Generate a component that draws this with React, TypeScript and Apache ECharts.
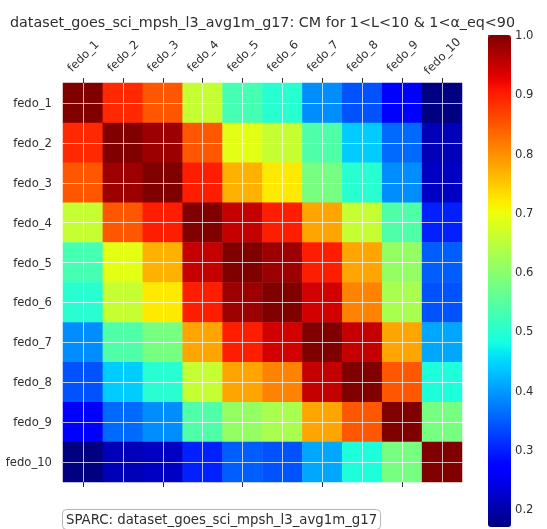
import React, { useEffect, useRef } from "react";
import * as echarts from "echarts";

const FONT = "DejaVu Sans";
const INK = "#2e2e2e";

// Channel names along both axes
const channels = [
  "fedo_1", "fedo_2", "fedo_3", "fedo_4", "fedo_5",
  "fedo_6", "fedo_7", "fedo_8", "fedo_9", "fedo_10",
];

// Correlation matrix, one row per channel
const correlation = [
  [1.0, 0.89, 0.85, 0.66, 0.53, 0.5, 0.39, 0.34, 0.26, 0.17],
  [0.89, 1.0, 0.98, 0.85, 0.69, 0.66, 0.54, 0.44, 0.36, 0.21],
  [0.85, 0.98, 1.0, 0.9, 0.77, 0.72, 0.58, 0.5, 0.39, 0.22],
  [0.66, 0.85, 0.9, 1.0, 0.95, 0.9, 0.78, 0.66, 0.54, 0.3],
  [0.53, 0.69, 0.77, 0.95, 1.0, 0.98, 0.9, 0.78, 0.61, 0.35],
  [0.5, 0.66, 0.72, 0.9, 0.98, 1.0, 0.94, 0.81, 0.63, 0.34],
  [0.39, 0.54, 0.58, 0.78, 0.9, 0.94, 1.0, 0.95, 0.78, 0.41],
  [0.34, 0.44, 0.5, 0.66, 0.78, 0.81, 0.95, 1.0, 0.85, 0.49],
  [0.26, 0.36, 0.39, 0.54, 0.61, 0.63, 0.78, 0.85, 1.0, 0.58],
  [0.17, 0.21, 0.22, 0.3, 0.35, 0.34, 0.41, 0.49, 0.58, 1.0],
];

const colorbarTicks = [0.2, 0.3, 0.4, 0.5, 0.6, 0.7, 0.8, 0.9, 1.0];
const V_MIN = 0.17;
const V_MAX = 1.0;

const titleText = "dataset_goes_sci_mpsh_l3_avg1m_g17: CM for 1<L<10 & 1<α_eq<90";
const sourceText = "SPARC: dataset_goes_sci_mpsh_l3_avg1m_g17";

// Piecewise-linear "jet" colormap
type Seg = [number, number][];
const JET_R: Seg = [[0, 0], [0.35, 0], [0.66, 1], [0.89, 1], [1, 0.5]];
const JET_G: Seg = [[0, 0], [0.125, 0], [0.375, 1], [0.64, 1], [0.91, 0], [1, 0]];
const JET_B: Seg = [[0, 0.5], [0.11, 1], [0.34, 1], [0.65, 0], [1, 0]];

function segValue(seg: Seg, t: number): number {
  for (let i = 1; i < seg.length; i++) {
    const [x0, y0] = seg[i - 1];
    const [x1, y1] = seg[i];
    if (t <= x1) {
      const f = x1 === x0 ? 0 : (t - x0) / (x1 - x0);
      return y0 + f * (y1 - y0);
    }
  }
  return seg[seg.length - 1][1];
}

function jetColors(n: number): string[] {
  const out: string[] = [];
  for (let i = 0; i < n; i++) {
    const t = i / (n - 1);
    const r = Math.round(segValue(JET_R, t) * 255);
    const g = Math.round(segValue(JET_G, t) * 255);
    const b = Math.round(segValue(JET_B, t) * 255);
    out.push(`rgb(${r},${g},${b})`);
  }
  return out;
}

export default function App() {
  const ref = useRef<HTMLDivElement>(null);

  useEffect(() => {
    if (!ref.current) return;
    const chart = echarts.init(ref.current, undefined, { renderer: "svg" });

    const cells: [number, number, number][] = [];
    correlation.forEach((row, yi) => {
      row.forEach((v, xi) => cells.push([xi, yi, v]));
    });

    const tickStyle = { color: INK, width: 1 };

    chart.setOption({
      animation: false,
      textStyle: { fontFamily: FONT },
      title: [
        {
          text: sourceText,
          left: 62,
          top: 509,
          padding: [4, 4, 4, 4],
          borderColor: "#b5b5b5",
          borderWidth: 1,
          borderRadius: 4,
          textStyle: {
            fontFamily: FONT,
            fontSize: 13.3,
            fontWeight: "normal",
            color: INK,
          },
        },
      ],
      graphic: [
        {
          type: "text",
          x: 262.5,
          y: 21.5,
          style: {
            text: titleText,
            align: "center",
            verticalAlign: "middle",
            fontFamily: FONT,
            fontSize: 14.3,
            fill: INK,
          },
        },
      ],
      grid: [
        { left: 63, top: 83, width: 399, height: 399 },
        { left: 488, top: 35, width: 23, height: 492 },
      ],
      xAxis: [
        {
          type: "category",
          gridIndex: 0,
          data: channels,
          position: "top",
          axisLine: { show: false },
          axisTick: { show: true, alignWithLabel: true, length: 5, lineStyle: tickStyle },
          axisLabel: {
            interval: 0,
            rotate: -45,
            align: "center",
            verticalAlign: "middle",
            margin: 27,
            fontSize: 11.6,
            color: INK,
            fontFamily: FONT,
          },
          splitLine: { show: false },
        },
        {
          type: "category",
          gridIndex: 0,
          data: channels,
          position: "bottom",
          axisLine: { show: false },
          axisTick: { show: true, alignWithLabel: true, length: 5, lineStyle: tickStyle },
          axisLabel: { show: false },
          splitLine: { show: false },
        },
        { type: "value", gridIndex: 1, show: false, min: 0, max: 1 },
      ],
      yAxis: [
        {
          type: "category",
          gridIndex: 0,
          data: channels,
          inverse: true,
          axisLine: { show: false },
          axisTick: { show: false },
          axisLabel: {
            interval: 0,
            margin: 11,
            fontSize: 11.6,
            color: INK,
            fontFamily: FONT,
          },
          splitLine: { show: false },
        },
        {
          type: "value",
          gridIndex: 1,
          position: "right",
          min: V_MIN,
          max: V_MAX,
          axisLine: { show: false },
          splitLine: { show: false },
          axisTick: {
            show: true,
            length: 4,
            customValues: colorbarTicks,
            lineStyle: tickStyle,
          },
          axisLabel: {
            customValues: colorbarTicks,
            formatter: (v: number) => v.toFixed(1),
            margin: 4,
            fontSize: 11.6,
            color: INK,
            fontFamily: FONT,
          },
        },
      ],
      visualMap: {
        type: "continuous",
        min: V_MIN,
        max: V_MAX,
        dimension: 2,
        seriesIndex: 0,
        calculable: false,
        hoverLink: false,
        orient: "vertical",
        left: 483,
        top: 30,
        padding: 5,
        itemWidth: 23,
        itemHeight: 492,
        inRange: { color: jetColors(129) },
      },
      series: [
        {
          type: "heatmap",
          xAxisIndex: 0,
          yAxisIndex: 0,
          data: cells,
          emphasis: { disabled: true },
          markLine: {
            silent: true,
            symbol: ["none", "none"],
            label: { show: false },
            emphasis: { disabled: true },
            lineStyle: { color: "#ffffff", width: 1, type: "solid", opacity: 0.7 },
            data: [
              ...channels.map((c) => ({ xAxis: c })),
              ...channels.map((c) => ({ yAxis: c })),
            ],
          },
        },
      ],
    });

    return () => chart.dispose();
  }, []);

  return (
    <div
      ref={ref}
      style={{ position: "fixed", left: 0, top: 0, width: 547, height: 529 }}
    />
  );
}
